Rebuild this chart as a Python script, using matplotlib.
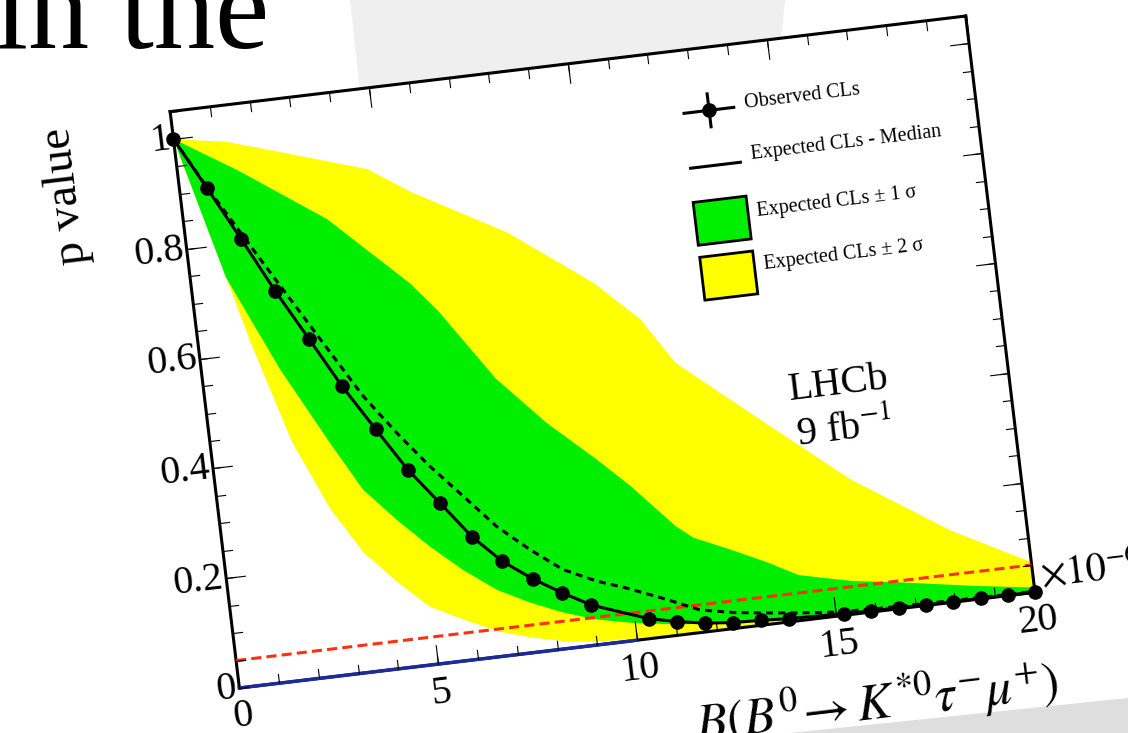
"""
    CLs scan for B0 -> K*0 tau mu, drawn on a rotated frame
"""

import matplotlib.pyplot as plt
from matplotlib.patches import Polygon, Rectangle
from matplotlib.transforms import Affine2D
import mpl_toolkits.axisartist.floating_axes as floating_axes
from mpl_toolkits.axisartist.grid_finder import FixedLocator, DictFormatter

plt.rcParams['mathtext.fontset'] = 'stix'
SERIF = 'Liberation Serif'

# Data (x in units of 1e-6)
obs_x = [0.00, 0.69, 1.38, 2.07, 2.77, 3.44, 4.15, 4.82, 5.52, 6.22, 6.89, 7.59,
         8.29, 8.97, 10.36, 11.04, 11.73, 12.43, 13.12, 13.83, 15.21, 15.88,
         16.58, 17.26, 17.95, 18.64, 19.33, 20.00]
obs_y = [1.000, 0.904, 0.806, 0.705, 0.611, 0.520, 0.435, 0.356, 0.289, 0.221,
         0.171, 0.133, 0.101, 0.073, 0.036, 0.025, 0.016, 0.011, 0.009, 0.006,
         0.003, 0.002, 0.002, 0.001, 0.001, 0.001, 0.001, 0.000]

med_x = [0.00, 0.69, 1.79, 3.25, 3.94, 4.66, 5.38, 6.12, 6.85, 7.61, 8.37, 9.17,
         9.89, 10.85, 11.64, 12.46, 13.29, 14.11, 14.94, 16.0, 18.0, 20.0]
med_y = [1.000, 0.906, 0.766, 0.583, 0.497, 0.424, 0.357, 0.296, 0.235, 0.186,
         0.143, 0.115, 0.096, 0.067, 0.041, 0.029, 0.021, 0.014, 0.008, 0.005,
         0.003, 0.002]

sig1_hi_x = [0, 1.5, 3.57, 5.43, 6.04, 7.28, 8.4, 9.54, 10.3, 11.3, 11.7, 12.6,
             13.45, 14.2, 15.5, 16.7, 18.5, 20]
sig1_hi_y = [1.0, 0.93, 0.823, 0.69, 0.635, 0.50, 0.41, 0.333, 0.278, 0.196,
             0.172, 0.142, 0.112, 0.082, 0.06, 0.047, 0.025, 0.009]
sig1_lo_x = [0, 0.89, 1.96, 2.97, 3.65, 4.4, 5.14, 5.89, 6.67, 7.45, 8.24, 9.06,
             9.87, 11.0, 12.0, 13.0, 14.0, 15.0, 17.0, 20]
sig1_lo_y = [1.0, 0.74, 0.563, 0.421, 0.33, 0.268, 0.213, 0.164, 0.121, 0.091,
             0.066, 0.046, 0.033, 0.02, 0.013, 0.008, 0.005, 0.003, 0.002, 0.001]

sig2_hi_x = [0, 1.33, 3.1, 4.72, 5.72, 8.0, 10.0, 11.03, 11.77, 13.7, 15.76,
             18.08, 20]
sig2_hi_y = [1.0, 0.983, 0.942, 0.904, 0.854, 0.76, 0.65, 0.576, 0.49, 0.37,
             0.243, 0.13, 0.055]
sig2_lo_x = [0, 0.76, 1.3, 2.04, 2.8, 3.5, 4.25, 4.96, 5.83, 6.62, 7.42, 8.25,
             9.07, 10.0, 12.0, 15.0, 20]
sig2_lo_y = [1.0, 0.78, 0.62, 0.43, 0.30, 0.215, 0.155, 0.105, 0.072, 0.045,
             0.027, 0.013, 0.006, 0.003, 0.002, 0.001, 0.001]

cls_limit = 0.05
limit_x = [0, 20]
blue_x = [0, 10]
blue_y = [0, 0]

x_ticks = [0, 5, 10, 15, 20]
x_tick_labels = ['0', '5', '10', '15', '20']
y_ticks = [0, 0.2, 0.4, 0.6, 0.8, 1.0]
y_tick_labels = ['0', '0.2', '0.4', '0.6', '0.8', '1']
x_minor = list(range(21))
y_minor = [0.05 * i for i in range(22)]

# Frame geometry: photo of the slide is rotated a bit
# (floating axes pad their limits by 2%, so the rect is 2% larger)
ANGLE = 6.85
tr = Affine2D().scale(40.0, 552.0).rotate_deg(ANGLE)
RECT = [161.4 / 1128, 38.3 / 733, 882.3 / 1128, 685.4 / 733]

fig = plt.figure(figsize=(11.28, 7.33), dpi=100)

# grey paper sticking out behind the slide, and the card's shadow
fig.patches.append(Polygon([(350 / 1128, 1.0), (785 / 1128, 1.0),
                            (780 / 1128, 1 - 50 / 733), (360 / 1128, 1 - 92 / 733)],
                           closed=True, transform=fig.transFigure,
                           facecolor='#efefef', edgecolor='none', zorder=-1))
fig.patches.append(Polygon([(790 / 1128, 0.0), (1128 / 1128, 35 / 733),
                            (1.0, 0.0)],
                           closed=True, transform=fig.transFigure,
                           facecolor='#dedede', edgecolor='none', zorder=-1))
fig.text(-6 / 1128, 1 - 48 / 733, 'in the', fontsize=88, family=SERIF,
         va='baseline', ha='left')


def make_axes(xl, yl, xfmt, yfmt):
    gh = floating_axes.GridHelperCurveLinear(
        tr, extremes=(0, 20, 0, 1.05),
        grid_locator1=FixedLocator(xl), grid_locator2=FixedLocator(yl),
        tick_formatter1=DictFormatter(xfmt), tick_formatter2=DictFormatter(yfmt))
    return fig.add_axes(RECT, axes_class=floating_axes.FloatingAxes, grid_helper=gh)


ax = make_axes(x_ticks, y_ticks, dict(zip(x_ticks, x_tick_labels)),
               dict(zip(y_ticks, y_tick_labels)))
for name in ['bottom', 'top', 'left', 'right']:
    ax.axis[name].line.set_linewidth(2.2)
    ax.axis[name].major_ticks.set_ticksize(14)
    ax.axis[name].major_ticks.set_linewidth(2)
    ax.axis[name].major_ticklabels.set_fontsize(29)
    ax.axis[name].major_ticklabels.set_fontfamily(SERIF)
ax.axis['top'].major_ticklabels.set_visible(False)
ax.axis['right'].major_ticklabels.set_visible(False)
ax.axis['bottom'].major_ticklabels.set_pad(9)
ax.axis['left'].major_ticklabels.set_pad(2)

# minor ticks on an overlay frame
ax_minor = make_axes(x_minor, y_minor, {}, {})
ax_minor.patch.set_visible(False)
for name in ['bottom', 'top', 'left', 'right']:
    ax_minor.axis[name].line.set_visible(False)
    ax_minor.axis[name].major_ticks.set_ticksize(7)
    ax_minor.axis[name].major_ticks.set_linewidth(2)
    ax_minor.axis[name].major_ticklabels.set_visible(False)

aux = ax.get_aux_axes(tr)
aux.patch = ax.patch
ax.patch.zorder = 0.9

aux.plot(blue_x, blue_y, color='#1c2a9c', lw=2.5, zorder=3, clip_on=False)
aux.fill(sig2_hi_x + sig2_lo_x[::-1], sig2_hi_y + sig2_lo_y[::-1],
         facecolor='#ffff00', edgecolor='none', zorder=1)
aux.fill(sig1_hi_x + sig1_lo_x[::-1], sig1_hi_y + sig1_lo_y[::-1],
         facecolor='#00ee00', edgecolor='none', zorder=1.1)
aux.plot(limit_x, [cls_limit] * len(limit_x), color='#ff3010', lw=2.2,
         ls=(0, (3.3, 1.7)), zorder=3)
aux.plot(med_x, med_y, color='k', lw=2.2, ls=(0, (2.3, 1.7)), zorder=3.2)
aux.plot(obs_x, obs_y, color='k', lw=2.2, marker='o', ms=9.5, zorder=4,
         clip_on=False)

# legend drawn in the rotated frame
aux.plot([12.73, 13.98], [0.936, 0.936], color='k', lw=2.2)
aux.plot([13.36, 13.36], [0.906, 0.966], color='k', lw=2.2)
aux.plot([13.36], [0.936], 'ko', ms=9.5)
aux.plot([12.73, 13.98], [0.836, 0.836], color='k', lw=2.2)
aux.add_patch(Rectangle((12.69, 0.696), 1.33, 0.078, facecolor='#00ee00',
                        edgecolor='k', lw=2, zorder=3))
aux.add_patch(Rectangle((12.69, 0.596), 1.33, 0.078, facecolor='#ffff00',
                        edgecolor='k', lw=2, zorder=3))
legend_text = ['Observed CLs', 'Expected CLs - Median',
               'Expected CLs \u00b1 1 \u03c3', 'Expected CLs \u00b1 2 \u03c3']
for lbl, yy in zip(legend_text, [0.94, 0.847, 0.743, 0.648]):
    aux.text(14.25, yy, lbl, fontsize=14.5, family=SERIF, ha='left', va='center',
             rotation=ANGLE, rotation_mode='anchor')

aux.text(15.75, 0.416, 'LHCb', fontsize=29, family=SERIF, ha='center',
         va='center', rotation=ANGLE, rotation_mode='anchor')
aux.text(15.78, 0.334, r'9 fb$^{-1}$', fontsize=29, family=SERIF, ha='center',
         va='center', rotation=ANGLE, rotation_mode='anchor')
aux.text(20.19, 0.0075, r'$\times10^{-6}$', fontsize=29, ha='left',
         va='baseline', rotation=ANGLE, rotation_mode='anchor')
aux.text(-2.85, 0.92, 'p value', fontsize=34, family=SERIF, ha='center',
         va='center', rotation=90 + ANGLE, rotation_mode='anchor')
aux.text(20.3, -0.165, r'$B(B^0\!\rightarrow K^{*0}\tau^{-}\mu^{+})$',
         fontsize=37, ha='right', va='center', rotation=ANGLE,
         rotation_mode='anchor')

fig.savefig('out.png', dpi=100)
